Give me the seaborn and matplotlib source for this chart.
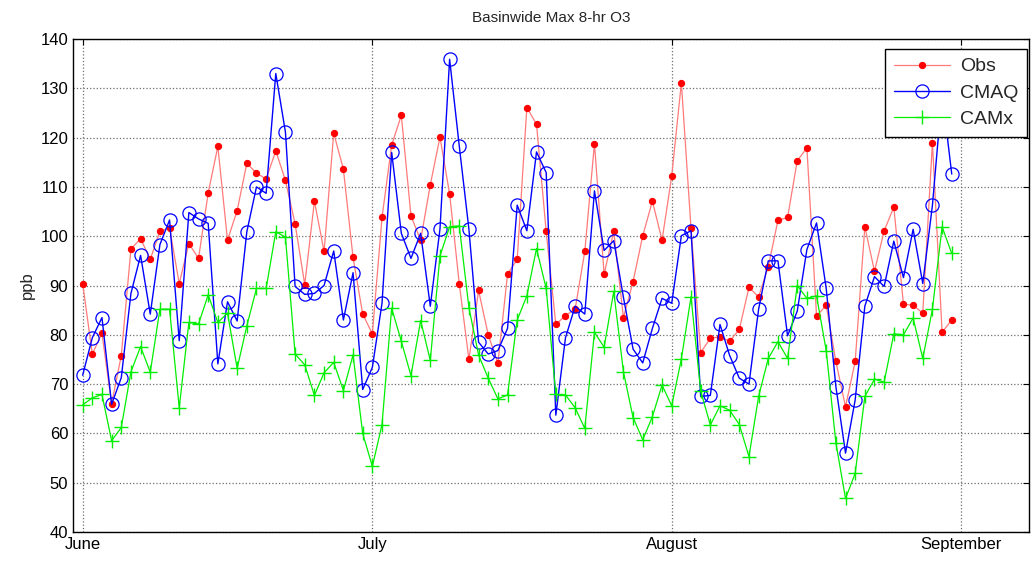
import matplotlib
matplotlib.use('Agg')
import matplotlib.pyplot as plt
import seaborn as sns
import pandas as pd
import numpy as np

# daily basinwide max 8-hr O3 (ppb), June 1 .. Aug 30
obs = [90.4, 76.1, 80.3, 66.0, 75.8, 97.4, 99.5, 95.3, 101.0, 101.7,
       90.4, 98.5, 95.5, 108.8, 118.2, 99.2, 105.2, 114.8, 112.8, 111.6,
       117.3, 111.3, 102.5, 90.2, 107.1, 96.9, 120.9, 113.6, 95.7, 84.2,
       80.2, 103.8, 118.5, 124.5, 104.1, 99.2, 110.4, 120.1, 108.6, 90.4,
       75.0, 89.0, 80.0, 74.2, 92.3, 95.3, 126.1, 122.7, 101.0, 82.1,
       83.9, 85.2, 96.9, 118.8, 92.3, 101.0, 83.5, 90.8, 100.1, 107.1,
       99.2, 112.2, 131.1, 101.6, 76.4, 79.3, 79.6, 78.7, 81.1, 89.6,
       87.7, 93.8, 103.2, 103.8, 115.3, 117.9, 83.8, 86.0, 74.6, 65.4,
       74.6, 101.9, 92.9, 101.1, 105.9, 86.2, 86.0, 84.4, 119.0, 80.5,
       83.0]
cmaq = [71.8, 79.4, 83.5, 65.9, 71.3, 88.4, 96.1, 84.2, 98.3, 103.3,
        78.8, 104.8, 103.5, 102.6, 74.1, 86.7, 82.8, 100.9, 110.0, 108.7,
        133.0, 121.1, 89.8, 88.2, 88.4, 90.0, 97.0, 83.0, 92.6, 68.9,
        73.4, 86.4, 117.0, 100.6, 95.5, 100.6, 85.8, 101.4, 135.9, 118.3,
        101.4, 78.5, 76.1, 76.8, 81.3, 106.3, 101.1, 117.1, 112.9, 63.7,
        79.4, 85.8, 84.2, 109.2, 97.1, 99.1, 87.6, 77.1, 74.3, 81.3,
        87.4, 86.4, 100.1, 101.1, 67.5, 67.7, 82.1, 75.8, 71.2, 70.0,
        85.2, 95.0, 95.0, 79.8, 84.8, 97.3, 102.7, 89.4, 69.5, 56.0,
        66.8, 85.8, 91.8, 89.8, 99.0, 91.6, 101.4, 90.4, 106.3, 129.0,
        112.6]
camx = [65.8, 67.2, 67.9, 58.5, 61.2, 72.5, 77.6, 72.4, 85.2, 85.2,
        65.2, 82.5, 82.2, 88.1, 82.5, 84.4, 73.2, 81.8, 89.4, 89.4,
        100.9, 99.8, 76.1, 73.9, 67.7, 72.3, 74.4, 68.7, 75.9, 60.0,
        53.3, 61.8, 85.4, 78.7, 71.7, 82.9, 74.8, 96.0, 101.9, 102.1,
        85.5, 75.9, 71.2, 67.0, 67.8, 83.0, 87.9, 97.5, 89.4, 67.9,
        67.8, 65.2, 61.0, 80.5, 77.5, 88.8, 72.5, 63.2, 58.7, 63.4,
        69.8, 65.6, 75.1, 87.7, 68.6, 61.7, 65.6, 64.7, 61.8, 55.3,
        67.5, 75.2, 78.6, 75.2, 90.0, 87.4, 87.9, 76.8, 58.1, 46.8,
        51.9, 67.5, 71.0, 70.4, 80.2, 80.0, 83.4, 75.2, 85.2, 101.9,
        96.5]
month_ticks = [0, 30, 61, 91]
month_labels = ['June', 'July', 'August', 'September']

days = np.arange(len(obs))
df = pd.DataFrame({'day': days, 'Obs': obs, 'CMAQ': cmaq, 'CAMx': camx})

sns.set_style('white')
plt.rcParams['font.family'] = ['Liberation Sans', 'DejaVu Sans']

fig = plt.figure(figsize=(10.32, 5.61), dpi=100)
ax = fig.add_axes([73 / 1032, 1 - 532 / 561, (1029 - 73) / 1032, (532 - 39) / 561])

sns.lineplot(data=df, x='day', y='Obs', ax=ax, color='#ff7a7a', lw=0.9,
             marker='o', markersize=4.5, markerfacecolor='red',
             markeredgecolor='red', label='Obs')
sns.lineplot(data=df, x='day', y='CMAQ', ax=ax, color='#0000ff', lw=1.0,
             marker='o', markersize=9.5, markerfacecolor='none',
             markeredgecolor='#0000ff', markeredgewidth=0.9, label='CMAQ')
sns.lineplot(data=df, x='day', y='CAMx', ax=ax, color='#00ee00', lw=0.9,
             marker='+', markersize=10, markeredgecolor='#00ee00',
             markeredgewidth=1.0, label='CAMx')

ax.set_xlim(-1.0, 98.0)
ax.set_ylim(40, 140)
ax.set_yticks(range(40, 141, 10))
ax.set_xticks(month_ticks)
ax.set_xticklabels(month_labels)
ax.tick_params(axis='both', direction='in', length=4, width=0.8, labelsize=12,
               top=True, right=True, colors='black')
ax.grid(True, color='#6e6e6e', linestyle=':', linewidth=0.9)
for s in ax.spines.values():
    s.set_color('black')
    s.set_linewidth(1.0)

ax.set_xlabel('')
ax.set_ylabel('ppb', fontsize=12)
ax.set_title('Basinwide Max 8-hr O3', fontsize=11, pad=12)

leg = ax.legend(loc='upper right', bbox_to_anchor=(1027 / 1032, 1 - 49 / 561),
                bbox_transform=fig.transFigure, borderaxespad=0,
                fontsize=14, frameon=True, fancybox=False,
                handlelength=2.9, labelspacing=0.45, borderpad=0.45,
                handletextpad=0.5)
leg.get_frame().set_edgecolor('black')
leg.get_frame().set_linewidth(1.0)
leg.get_frame().set_alpha(1)

fig.savefig('out.png', dpi=100)
